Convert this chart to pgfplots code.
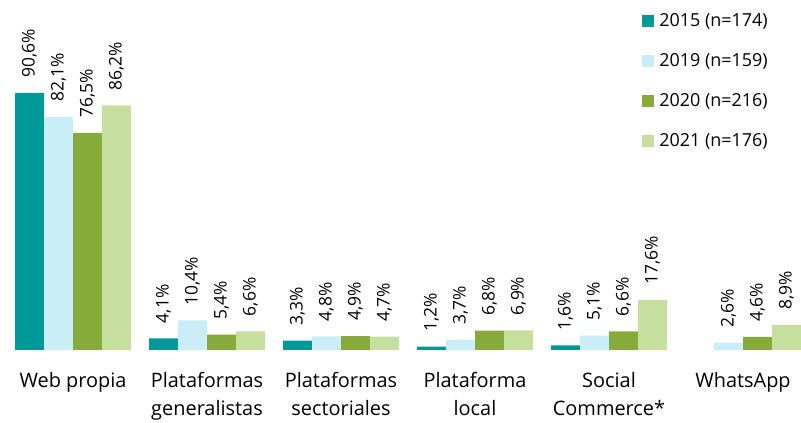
\documentclass[border=0pt]{standalone}
\usepackage{fontspec}
\setmainfont{Open Sans}
\usepackage{pgfplots}
\pgfplotsset{compat=1.18}

\definecolor{c15}{RGB}{0,152,152}
\definecolor{c19}{RGB}{201,238,248}
\definecolor{c20}{RGB}{134,171,59}
\definecolor{c21}{RGB}{198,222,158}

\begin{document}
\begin{tikzpicture}
\useasboundingbox (0,0) rectangle (801bp,423bp);
\begin{axis}[
    at={(0bp,73bp)}, anchor=south west,
    scale only axis,
    width=801bp, height=283.7bp,
    xmin=-0.5448, xmax=5.4328,
    ymin=0, ymax=100,
    ybar=0pt,
    bar width=29bp,
    axis line style={draw=none},
    major tick length=0pt,
    ytick=\empty,
    xtick={0,...,5},
    xticklabels={Web propia, Plataformas\\generalistas, Plataformas\\sectoriales,
                 Plataforma\\local, Social\\Commerce*, WhatsApp},
    xticklabel style={align=center, anchor=north, yshift=-19bp,
                      font=\fontsize{20}{28}\selectfont},
    /pgf/number format/assume math mode=true,
    nodes near coords={\pgfmathprintnumber[fixed,fixed zerofill,precision=1,use comma]{\pgfplotspointmeta}\%},
    every node near coord/.append style={rotate=90, anchor=west, inner xsep=15bp,
                      font=\fontsize{17.5}{21}\selectfont, black},
    legend style={draw=none, fill=none, at={(0.798,1.198)}, anchor=north west,
                  font=\fontsize{18}{22}\selectfont, row sep=23.5bp, column sep=4bp,
                  nodes={inner sep=1bp}},
    legend cell align=left,
    legend image code/.code={\fill[#1] (0bp,-6bp) rectangle (12bp,6bp);},
]
% 2015 (no WhatsApp value)
\addplot[fill=c15, draw=none] coordinates {(0,90.6) (1,4.1) (2,3.3) (3,1.2) (4,1.6)};
% 2019
\addplot[fill=c19, draw=none] coordinates {(0,82.1) (1,10.4) (2,4.8) (3,3.7) (4,5.1) (5,2.6)};
% 2020
\addplot[fill=c20, draw=none] coordinates {(0,76.5) (1,5.4) (2,4.9) (3,6.8) (4,6.6) (5,4.6)};
% 2021
\addplot[fill=c21, draw=none] coordinates {(0,86.2) (1,6.6) (2,4.7) (3,6.9) (4,17.6) (5,8.9)};
\legend{2015 (n=174), 2019 (n=159), 2020 (n=216), 2021 (n=176)}
\end{axis}
\end{tikzpicture}
\end{document}
